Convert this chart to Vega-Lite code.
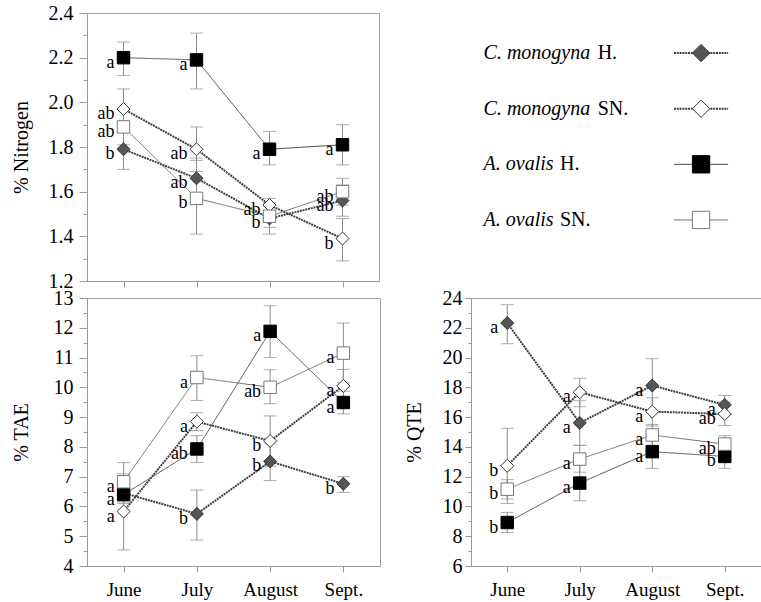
{
  "$schema": "https://vega.github.io/schema/vega-lite/v6.json",
  "background": "white",
  "padding": {"left": 10, "top": 2, "right": 0, "bottom": 0},
  "spacing": -5,
  "datasets": {
    "pts": [
      {"panel": "N", "month": "June", "mi": 0, "series": "C. monogyna H.", "v": 1.79, "lo": 1.70, "hi": 1.88, "letter": "b"},
      {"panel": "N", "month": "July", "mi": 1, "series": "C. monogyna H.", "v": 1.66, "lo": 1.57, "hi": 1.75, "letter": "ab"},
      {"panel": "N", "month": "August", "mi": 2, "series": "C. monogyna H.", "v": 1.48, "lo": 1.41, "hi": 1.55, "letter": "b"},
      {"panel": "N", "month": "Sept.", "mi": 3, "series": "C. monogyna H.", "v": 1.56, "lo": 1.49, "hi": 1.63, "letter": "ab"},
      {"panel": "N", "month": "June", "mi": 0, "series": "C. monogyna SN.", "v": 1.97, "lo": 1.88, "hi": 2.06, "letter": "ab"},
      {"panel": "N", "month": "July", "mi": 1, "series": "C. monogyna SN.", "v": 1.79, "lo": 1.69, "hi": 1.89, "letter": "ab"},
      {"panel": "N", "month": "August", "mi": 2, "series": "C. monogyna SN.", "v": 1.54, "lo": 1.51, "hi": 1.57, "letter": "ab"},
      {"panel": "N", "month": "Sept.", "mi": 3, "series": "C. monogyna SN.", "v": 1.39, "lo": 1.29, "hi": 1.48, "letter": "b"},
      {"panel": "N", "month": "June", "mi": 0, "series": "A. ovalis H.", "v": 2.20, "lo": 2.12, "hi": 2.27, "letter": "a"},
      {"panel": "N", "month": "July", "mi": 1, "series": "A. ovalis H.", "v": 2.19, "lo": 2.06, "hi": 2.31, "letter": "a"},
      {"panel": "N", "month": "August", "mi": 2, "series": "A. ovalis H.", "v": 1.79, "lo": 1.72, "hi": 1.87, "letter": "a"},
      {"panel": "N", "month": "Sept.", "mi": 3, "series": "A. ovalis H.", "v": 1.81, "lo": 1.72, "hi": 1.90, "letter": "a"},
      {"panel": "N", "month": "June", "mi": 0, "series": "A. ovalis SN.", "v": 1.89, "lo": 1.81, "hi": 1.97, "letter": "ab"},
      {"panel": "N", "month": "July", "mi": 1, "series": "A. ovalis SN.", "v": 1.57, "lo": 1.41, "hi": 1.74, "letter": "b"},
      {"panel": "N", "month": "August", "mi": 2, "series": "A. ovalis SN.", "v": 1.49, "lo": 1.44, "hi": 1.54, "letter": ""},
      {"panel": "N", "month": "Sept.", "mi": 3, "series": "A. ovalis SN.", "v": 1.60, "lo": 1.54, "hi": 1.66, "letter": "ab"},
      {"panel": "T", "month": "June", "mi": 0, "series": "C. monogyna H.", "v": 6.45, "lo": 6.15, "hi": 6.75, "letter": ""},
      {"panel": "T", "month": "July", "mi": 1, "series": "C. monogyna H.", "v": 5.75, "lo": 4.87, "hi": 6.55, "letter": "b"},
      {"panel": "T", "month": "August", "mi": 2, "series": "C. monogyna H.", "v": 7.51, "lo": 6.87, "hi": 8.10, "letter": "b"},
      {"panel": "T", "month": "Sept.", "mi": 3, "series": "C. monogyna H.", "v": 6.76, "lo": 6.47, "hi": 7.00, "letter": "b"},
      {"panel": "T", "month": "June", "mi": 0, "series": "C. monogyna SN.", "v": 5.83, "lo": 4.54, "hi": 7.10, "letter": "a"},
      {"panel": "T", "month": "July", "mi": 1, "series": "C. monogyna SN.", "v": 8.85, "lo": 8.55, "hi": 9.15, "letter": "a"},
      {"panel": "T", "month": "August", "mi": 2, "series": "C. monogyna SN.", "v": 8.20, "lo": 7.35, "hi": 9.04, "letter": "b"},
      {"panel": "T", "month": "Sept.", "mi": 3, "series": "C. monogyna SN.", "v": 10.05, "lo": 9.50, "hi": 10.60, "letter": "a"},
      {"panel": "T", "month": "June", "mi": 0, "series": "A. ovalis H.", "v": 6.40, "lo": 6.10, "hi": 6.70, "letter": "a"},
      {"panel": "T", "month": "July", "mi": 1, "series": "A. ovalis H.", "v": 7.93, "lo": 7.48, "hi": 8.38, "letter": "ab"},
      {"panel": "T", "month": "August", "mi": 2, "series": "A. ovalis H.", "v": 11.88, "lo": 11.00, "hi": 12.74, "letter": "a"},
      {"panel": "T", "month": "Sept.", "mi": 3, "series": "A. ovalis H.", "v": 9.49, "lo": 9.11, "hi": 9.87, "letter": "a"},
      {"panel": "T", "month": "June", "mi": 0, "series": "A. ovalis SN.", "v": 6.83, "lo": 6.20, "hi": 7.47, "letter": "a"},
      {"panel": "T", "month": "July", "mi": 1, "series": "A. ovalis SN.", "v": 10.33, "lo": 9.56, "hi": 11.06, "letter": "a"},
      {"panel": "T", "month": "August", "mi": 2, "series": "A. ovalis SN.", "v": 10.00, "lo": 9.45, "hi": 10.59, "letter": "ab"},
      {"panel": "T", "month": "Sept.", "mi": 3, "series": "A. ovalis SN.", "v": 11.15, "lo": 10.15, "hi": 12.16, "letter": "a"},
      {"panel": "Q", "month": "June", "mi": 0, "series": "C. monogyna H.", "v": 22.32, "lo": 20.93, "hi": 23.55, "letter": "a"},
      {"panel": "Q", "month": "July", "mi": 1, "series": "C. monogyna H.", "v": 15.61, "lo": 14.10, "hi": 17.10, "letter": "a"},
      {"panel": "Q", "month": "August", "mi": 2, "series": "C. monogyna H.", "v": 18.12, "lo": 16.30, "hi": 19.92, "letter": "a"},
      {"panel": "Q", "month": "Sept.", "mi": 3, "series": "C. monogyna H.", "v": 16.82, "lo": 16.20, "hi": 17.45, "letter": "a"},
      {"panel": "Q", "month": "June", "mi": 0, "series": "C. monogyna SN.", "v": 12.73, "lo": 10.20, "hi": 15.25, "letter": "b"},
      {"panel": "Q", "month": "July", "mi": 1, "series": "C. monogyna SN.", "v": 17.67, "lo": 16.70, "hi": 18.61, "letter": "a"},
      {"panel": "Q", "month": "August", "mi": 2, "series": "C. monogyna SN.", "v": 16.37, "lo": 15.40, "hi": 17.30, "letter": "a"},
      {"panel": "Q", "month": "Sept.", "mi": 3, "series": "C. monogyna SN.", "v": 16.21, "lo": 15.43, "hi": 17.00, "letter": "ab"},
      {"panel": "Q", "month": "June", "mi": 0, "series": "A. ovalis H.", "v": 8.92, "lo": 8.25, "hi": 9.60, "letter": "b"},
      {"panel": "Q", "month": "July", "mi": 1, "series": "A. ovalis H.", "v": 11.57, "lo": 10.38, "hi": 12.80, "letter": "a"},
      {"panel": "Q", "month": "August", "mi": 2, "series": "A. ovalis H.", "v": 13.68, "lo": 12.56, "hi": 14.80, "letter": "a"},
      {"panel": "Q", "month": "Sept.", "mi": 3, "series": "A. ovalis H.", "v": 13.36, "lo": 12.56, "hi": 14.10, "letter": "b"},
      {"panel": "Q", "month": "June", "mi": 0, "series": "A. ovalis SN.", "v": 11.16, "lo": 10.50, "hi": 11.80, "letter": "b"},
      {"panel": "Q", "month": "July", "mi": 1, "series": "A. ovalis SN.", "v": 13.18, "lo": 12.30, "hi": 14.10, "letter": "a"},
      {"panel": "Q", "month": "August", "mi": 2, "series": "A. ovalis SN.", "v": 14.80, "lo": 14.10, "hi": 15.50, "letter": "a"},
      {"panel": "Q", "month": "Sept.", "mi": 3, "series": "A. ovalis SN.", "v": 14.19, "lo": 13.60, "hi": 14.75, "letter": "ab"}
    ],
    "legend": [
      {"series": "C. monogyna H.", "species": "C. monogyna", "status": "H."},
      {"series": "C. monogyna SN.", "species": "C. monogyna", "status": "SN."},
      {"series": "A. ovalis H.", "species": "A. ovalis", "status": "H."},
      {"series": "A. ovalis SN.", "species": "A. ovalis", "status": "SN."}
    ]
  },
  "config": {
    "font": "Liberation Serif",
    "view": {"stroke": "#a6a6a6"},
    "legend": {"disable": true},
    "axis": {
      "grid": false,
      "labelFont": "Liberation Serif",
      "labelFontSize": 20,
      "labelColor": "black",
      "labelOverlap": false,
      "titleFont": "Liberation Serif",
      "titleFontSize": 20,
      "titleFontWeight": "normal",
      "titleColor": "black",
      "domainColor": "#999999",
      "tickColor": "#999999",
      "labelPadding": 6
    },
    "text": {"font": "Liberation Serif", "color": "black"}
  },
  "vconcat": [
    {
      "spacing": 91,
      "hconcat": [
        {
          "width": 292,
          "height": 268,
          "data": {"name": "pts"},
          "transform": [{"filter": "datum.panel == 'N'"}],
          "encoding": {
            "x": {"field": "month", "type": "ordinal", "sort": ["June", "July", "August", "Sept."], "scale": {"type": "point", "padding": 0.5}, "axis": {"title": null, "labels": false, "tickSize": 6}}
          },
          "layer": [
            {
              "mark": {"type": "rule", "color": "#8c8c8c", "strokeWidth": 1},
              "encoding": {
                "y": {"field": "lo", "type": "quantitative", "scale": {"domain": [1.2, 2.4], "nice": false, "zero": false},
                  "axis": {"title": "% Nitrogen", "titlePadding": 17, "labelOverlap": false, "tickCount": 40,
                    "values": [1.2, 1.3, 1.4, 1.5, 1.6, 1.7, 1.8, 1.9, 2.0, 2.1, 2.2, 2.3, 2.4],
                    "labelExpr": "round(datum.value * 10) % 2 == 0 ? format(datum.value, '.1f') : ''",
                    "tickSize": {"condition": {"test": "round(datum.value * 10) % 2 == 1", "value": 4}, "value": 8}}},
                "y2": {"field": "hi"}
              }
            },
            {"mark": {"type": "tick", "color": "#8c8c8c", "thickness": 1, "size": 13}, "encoding": {"y": {"field": "lo", "type": "quantitative", "scale": {"domain": [1.2, 2.4], "nice": false, "zero": false}}}},
            {"mark": {"type": "tick", "color": "#8c8c8c", "thickness": 1, "size": 13}, "encoding": {"y": {"field": "hi", "type": "quantitative", "scale": {"domain": [1.2, 2.4], "nice": false, "zero": false}}}},
            {
              "mark": {"type": "line"},
              "encoding": {
                "y": {"field": "v", "type": "quantitative", "scale": {"domain": [1.2, 2.4], "nice": false, "zero": false}},
                "color": {"field": "series", "type": "nominal", "scale": {"type": "ordinal", "domain": ["C. monogyna H.", "C. monogyna SN.", "A. ovalis H.", "A. ovalis SN."], "range": ["#404040", "#404040", "#4d4d4d", "#707070"]}},
                "strokeWidth": {"field": "series", "type": "nominal", "scale": {"type": "ordinal", "domain": ["C. monogyna H.", "C. monogyna SN.", "A. ovalis H.", "A. ovalis SN."], "range": [2, 2, 1, 1]}},
                "strokeDash": {"field": "series", "type": "nominal", "scale": {"type": "ordinal", "domain": ["C. monogyna H.", "C. monogyna SN.", "A. ovalis H.", "A. ovalis SN."], "range": [[2, 0.8], [2, 0.8], [1, 0], [1, 0]]}},
                "order": {"field": "mi"}
              }
            },
            {
              "mark": {"type": "point", "opacity": 1, "strokeWidth": 1},
              "encoding": {
                "y": {"field": "v", "type": "quantitative", "scale": {"domain": [1.2, 2.4], "nice": false, "zero": false}},
                "shape": {"field": "series", "type": "nominal", "scale": {"domain": ["C. monogyna H.", "C. monogyna SN.", "A. ovalis H.", "A. ovalis SN."], "range": ["diamond", "diamond", "square", "square"]}},
                "fill": {"field": "series", "type": "nominal", "scale": {"type": "ordinal", "domain": ["C. monogyna H.", "C. monogyna SN.", "A. ovalis H.", "A. ovalis SN."], "range": ["#555555", "white", "black", "white"]}},
                "stroke": {"field": "series", "type": "nominal", "scale": {"type": "ordinal", "domain": ["C. monogyna H.", "C. monogyna SN.", "A. ovalis H.", "A. ovalis SN."], "range": ["#333333", "#333333", "black", "#777777"]}},
                "size": {"field": "series", "type": "nominal", "scale": {"type": "ordinal", "domain": ["C. monogyna H.", "C. monogyna SN.", "A. ovalis H.", "A. ovalis SN."], "range": [170, 170, 155, 155]}}
              }
            },
            {
              "mark": {"type": "text", "align": "right", "baseline": "middle", "dx": -9, "dy": 5, "fontSize": 18},
              "encoding": {
                "y": {"field": "v", "type": "quantitative", "scale": {"domain": [1.2, 2.4], "nice": false, "zero": false}},
                "text": {"field": "letter"}
              }
            }
          ]
        },
        {
          "width": 290,
          "height": 247,
          "view": {"stroke": null},
          "data": {"name": "legend"},
          "encoding": {
            "y": {"field": "series", "type": "nominal", "sort": ["C. monogyna H.", "C. monogyna SN.", "A. ovalis H.", "A. ovalis SN."], "scale": {"type": "point", "padding": 0.72}, "axis": null}
          },
          "layer": [
            {
              "mark": {"type": "rule"},
              "encoding": {
                "x": {"datum": 210, "type": "quantitative", "scale": {"domain": [0, 290]}, "axis": null},
                "x2": {"datum": 266},
                "color": {"field": "series", "type": "nominal", "scale": {"type": "ordinal", "domain": ["C. monogyna H.", "C. monogyna SN.", "A. ovalis H.", "A. ovalis SN."], "range": ["#404040", "#404040", "#4d4d4d", "#707070"]}},
                "strokeWidth": {"field": "series", "type": "nominal", "scale": {"type": "ordinal", "domain": ["C. monogyna H.", "C. monogyna SN.", "A. ovalis H.", "A. ovalis SN."], "range": [2, 2, 1, 1]}},
                "strokeDash": {"field": "series", "type": "nominal", "scale": {"type": "ordinal", "domain": ["C. monogyna H.", "C. monogyna SN.", "A. ovalis H.", "A. ovalis SN."], "range": [[2, 0.8], [2, 0.8], [1, 0], [1, 0]]}}
              }
            },
            {
              "mark": {"type": "point", "opacity": 1, "strokeWidth": 1, "size": 300},
              "encoding": {
                "x": {"datum": 238, "type": "quantitative"},
                "shape": {"field": "series", "type": "nominal", "scale": {"domain": ["C. monogyna H.", "C. monogyna SN.", "A. ovalis H.", "A. ovalis SN."], "range": ["diamond", "diamond", "square", "square"]}},
                "fill": {"field": "series", "type": "nominal", "scale": {"type": "ordinal", "domain": ["C. monogyna H.", "C. monogyna SN.", "A. ovalis H.", "A. ovalis SN."], "range": ["#555555", "white", "black", "white"]}},
                "stroke": {"field": "series", "type": "nominal", "scale": {"type": "ordinal", "domain": ["C. monogyna H.", "C. monogyna SN.", "A. ovalis H.", "A. ovalis SN."], "range": ["#333333", "#333333", "black", "#777777"]}}
              }
            },
            {
              "mark": {"type": "text", "align": "left", "baseline": "middle", "fontStyle": "italic", "fontSize": 20},
              "encoding": {"x": {"datum": 13, "type": "quantitative"}, "text": {"field": "species"}}
            },
            {
              "transform": [{"filter": "datum.species == 'C. monogyna'"}],
              "mark": {"type": "text", "align": "left", "baseline": "middle", "fontSize": 20},
              "encoding": {"x": {"datum": 131, "type": "quantitative"}, "text": {"field": "status"}}
            },
            {
              "transform": [{"filter": "datum.species == 'A. ovalis'"}],
              "mark": {"type": "text", "align": "left", "baseline": "middle", "fontSize": 20},
              "encoding": {"x": {"datum": 92, "type": "quantitative"}, "text": {"field": "status"}}
            }
          ]
        }
      ]
    },
    {
      "spacing": 22,
      "hconcat": [
        {
          "width": 293,
          "height": 268,
          "data": {"name": "pts"},
          "transform": [{"filter": "datum.panel == 'T'"}],
          "encoding": {
            "x": {"field": "month", "type": "ordinal", "sort": ["June", "July", "August", "Sept."], "scale": {"type": "point", "padding": 0.5}, "axis": {"title": null, "labelAngle": 0, "labelFontSize": 19, "labelPadding": 8, "tickSize": 6}}
          },
          "layer": [
            {
              "mark": {"type": "rule", "color": "#8c8c8c", "strokeWidth": 1},
              "encoding": {
                "y": {"field": "lo", "type": "quantitative", "scale": {"domain": [4, 13], "nice": false, "zero": false},
                  "axis": {"title": "% TAE", "titlePadding": 22, "labelOverlap": false, "tickCount": 40,
                    "values": [4, 4.5, 5, 5.5, 6, 6.5, 7, 7.5, 8, 8.5, 9, 9.5, 10, 10.5, 11, 11.5, 12, 12.5, 13],
                    "labelExpr": "datum.value % 1 == 0 ? format(datum.value, 'd') : ''",
                    "tickSize": {"condition": {"test": "datum.value % 1 != 0", "value": 4}, "value": 8}}},
                "y2": {"field": "hi"}
              }
            },
            {"mark": {"type": "tick", "color": "#8c8c8c", "thickness": 1, "size": 13}, "encoding": {"y": {"field": "lo", "type": "quantitative", "scale": {"domain": [4, 13], "nice": false, "zero": false}}}},
            {"mark": {"type": "tick", "color": "#8c8c8c", "thickness": 1, "size": 13}, "encoding": {"y": {"field": "hi", "type": "quantitative", "scale": {"domain": [4, 13], "nice": false, "zero": false}}}},
            {
              "mark": {"type": "line"},
              "encoding": {
                "y": {"field": "v", "type": "quantitative", "scale": {"domain": [4, 13], "nice": false, "zero": false}},
                "color": {"field": "series", "type": "nominal", "scale": {"type": "ordinal", "domain": ["C. monogyna H.", "C. monogyna SN.", "A. ovalis H.", "A. ovalis SN."], "range": ["#404040", "#404040", "#4d4d4d", "#707070"]}},
                "strokeWidth": {"field": "series", "type": "nominal", "scale": {"type": "ordinal", "domain": ["C. monogyna H.", "C. monogyna SN.", "A. ovalis H.", "A. ovalis SN."], "range": [2, 2, 1, 1]}},
                "strokeDash": {"field": "series", "type": "nominal", "scale": {"type": "ordinal", "domain": ["C. monogyna H.", "C. monogyna SN.", "A. ovalis H.", "A. ovalis SN."], "range": [[2, 0.8], [2, 0.8], [1, 0], [1, 0]]}},
                "order": {"field": "mi"}
              }
            },
            {
              "mark": {"type": "point", "opacity": 1, "strokeWidth": 1},
              "encoding": {
                "y": {"field": "v", "type": "quantitative", "scale": {"domain": [4, 13], "nice": false, "zero": false}},
                "shape": {"field": "series", "type": "nominal", "scale": {"domain": ["C. monogyna H.", "C. monogyna SN.", "A. ovalis H.", "A. ovalis SN."], "range": ["diamond", "diamond", "square", "square"]}},
                "fill": {"field": "series", "type": "nominal", "scale": {"type": "ordinal", "domain": ["C. monogyna H.", "C. monogyna SN.", "A. ovalis H.", "A. ovalis SN."], "range": ["#555555", "white", "black", "white"]}},
                "stroke": {"field": "series", "type": "nominal", "scale": {"type": "ordinal", "domain": ["C. monogyna H.", "C. monogyna SN.", "A. ovalis H.", "A. ovalis SN."], "range": ["#333333", "#333333", "black", "#777777"]}},
                "size": {"field": "series", "type": "nominal", "scale": {"type": "ordinal", "domain": ["C. monogyna H.", "C. monogyna SN.", "A. ovalis H.", "A. ovalis SN."], "range": [170, 170, 155, 155]}}
              }
            },
            {
              "mark": {"type": "text", "align": "right", "baseline": "middle", "dx": -9, "dy": 5, "fontSize": 18},
              "encoding": {
                "y": {"field": "v", "type": "quantitative", "scale": {"domain": [4, 13], "nice": false, "zero": false}},
                "text": {"field": "letter"}
              }
            }
          ]
        },
        {
          "width": 290,
          "height": 268,
          "data": {"name": "pts"},
          "transform": [{"filter": "datum.panel == 'Q'"}],
          "encoding": {
            "x": {"field": "month", "type": "ordinal", "sort": ["June", "July", "August", "Sept."], "scale": {"type": "point", "padding": 0.5}, "axis": {"title": null, "labelAngle": 0, "labelFontSize": 19, "labelPadding": 8, "tickSize": 6}}
          },
          "layer": [
            {
              "mark": {"type": "rule", "color": "#8c8c8c", "strokeWidth": 1},
              "encoding": {
                "y": {"field": "lo", "type": "quantitative", "scale": {"domain": [6, 24], "nice": false, "zero": false},
                  "axis": {"title": "% QTE", "titlePadding": 18, "labelOverlap": false, "tickCount": 40, "labelPadding": 3,
                    "values": [6, 7, 8, 9, 10, 11, 12, 13, 14, 15, 16, 17, 18, 19, 20, 21, 22, 23, 24],
                    "labelExpr": "datum.value % 2 == 0 ? format(datum.value, 'd') : ''",
                    "tickSize": {"condition": {"test": "datum.value % 2 != 0", "value": 3}, "value": 6}}},
                "y2": {"field": "hi"}
              }
            },
            {"mark": {"type": "tick", "color": "#8c8c8c", "thickness": 1, "size": 13}, "encoding": {"y": {"field": "lo", "type": "quantitative", "scale": {"domain": [6, 24], "nice": false, "zero": false}}}},
            {"mark": {"type": "tick", "color": "#8c8c8c", "thickness": 1, "size": 13}, "encoding": {"y": {"field": "hi", "type": "quantitative", "scale": {"domain": [6, 24], "nice": false, "zero": false}}}},
            {
              "mark": {"type": "line"},
              "encoding": {
                "y": {"field": "v", "type": "quantitative", "scale": {"domain": [6, 24], "nice": false, "zero": false}},
                "color": {"field": "series", "type": "nominal", "scale": {"type": "ordinal", "domain": ["C. monogyna H.", "C. monogyna SN.", "A. ovalis H.", "A. ovalis SN."], "range": ["#404040", "#404040", "#4d4d4d", "#707070"]}},
                "strokeWidth": {"field": "series", "type": "nominal", "scale": {"type": "ordinal", "domain": ["C. monogyna H.", "C. monogyna SN.", "A. ovalis H.", "A. ovalis SN."], "range": [2, 2, 1, 1]}},
                "strokeDash": {"field": "series", "type": "nominal", "scale": {"type": "ordinal", "domain": ["C. monogyna H.", "C. monogyna SN.", "A. ovalis H.", "A. ovalis SN."], "range": [[2, 0.8], [2, 0.8], [1, 0], [1, 0]]}},
                "order": {"field": "mi"}
              }
            },
            {
              "mark": {"type": "point", "opacity": 1, "strokeWidth": 1},
              "encoding": {
                "y": {"field": "v", "type": "quantitative", "scale": {"domain": [6, 24], "nice": false, "zero": false}},
                "shape": {"field": "series", "type": "nominal", "scale": {"domain": ["C. monogyna H.", "C. monogyna SN.", "A. ovalis H.", "A. ovalis SN."], "range": ["diamond", "diamond", "square", "square"]}},
                "fill": {"field": "series", "type": "nominal", "scale": {"type": "ordinal", "domain": ["C. monogyna H.", "C. monogyna SN.", "A. ovalis H.", "A. ovalis SN."], "range": ["#555555", "white", "black", "white"]}},
                "stroke": {"field": "series", "type": "nominal", "scale": {"type": "ordinal", "domain": ["C. monogyna H.", "C. monogyna SN.", "A. ovalis H.", "A. ovalis SN."], "range": ["#333333", "#333333", "black", "#777777"]}},
                "size": {"field": "series", "type": "nominal", "scale": {"type": "ordinal", "domain": ["C. monogyna H.", "C. monogyna SN.", "A. ovalis H.", "A. ovalis SN."], "range": [170, 170, 155, 155]}}
              }
            },
            {
              "mark": {"type": "text", "align": "right", "baseline": "middle", "dx": -9, "dy": 5, "fontSize": 18},
              "encoding": {
                "y": {"field": "v", "type": "quantitative", "scale": {"domain": [6, 24], "nice": false, "zero": false}},
                "text": {"field": "letter"}
              }
            }
          ]
        }
      ]
    }
  ]
}
